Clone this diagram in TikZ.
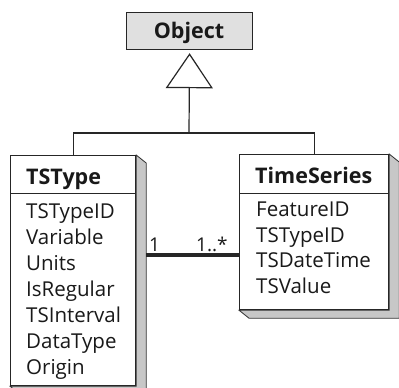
\documentclass[tikz,border=0pt]{standalone}
\usepackage{fontspec}
\setmainfont{Open Sans}
\usetikzlibrary{arrows.meta}
\tikzset{
  classbox/.style={draw=black!85, line width=1.2pt, fill=white, inner sep=0pt, anchor=north west},
  objbox/.style={draw=black!85, line width=1.2pt, fill=black!12, inner sep=0pt, anchor=north west},
  side3d/.style={fill=black!22, draw=black!80, line width=0.8pt, line join=miter},
  hdr/.style={font=\bfseries\fontsize{21.5}{21.5}\selectfont, inner sep=0pt, anchor=base west, text=black!90},
  attr/.style={font=\fontsize{20.5}{20.5}\selectfont, inner sep=0pt, anchor=base west, text=black!90},
  mult/.style={font=\fontsize{19}{19}\selectfont, inner sep=0pt, anchor=base west, text=black!90},
  sep/.style={line width=1pt, draw=black!85},
  gen/.style={line width=1.2pt, draw=black!85},
  assoc/.style={line width=4pt, draw=black!85},
}
\begin{document}
\begin{tikzpicture}[x=1pt,y=-1pt]
\useasboundingbox (0,0) rectangle (399,388);
\fill[white] (0,0) rectangle (399,388);

% Object
\node[objbox, minimum width=126pt, minimum height=37pt] (obj) at (126,12) {};
\node[hdr, anchor=base] (objt) at (189,38) {Object};

% TSType box
\node[classbox, minimum width=125pt, minimum height=230pt] (tstype) at (10,155) {};
\filldraw[side3d] (tstype.north east) -- ++(10,8) |- ([shift={(10,8)}]tstype.south west) -- (tstype.south west) -- (tstype.south east) -- cycle;
\node[classbox, minimum width=125pt, minimum height=230pt] (tstypeb) at (10,155) {};
\draw[sep] (tstypeb.west |- 0,193) coordinate (tl) -- (tstypeb.east |- tl);
\node[hdr] (tstypeh) at (26,184) {TSType};
\node[attr] (t1) at (26,218) {TSTypeID};
\node[attr] (t2) at (26,244) {Variable};
\node[attr] (t3) at (26,270) {Units};
\node[attr] (t4) at (26,296) {IsRegular};
\node[attr] (t5) at (26,322) {TSInterval};
\node[attr] (t6) at (26,348) {DataType};
\node[attr] (t7) at (26,374) {Origin};

% TimeSeries box
\node[classbox, minimum width=149pt, minimum height=155pt] (ts) at (239,154) {};
\filldraw[side3d] (ts.north east) -- ++(10,8) |- ([shift={(10,8)}]ts.south west) -- (ts.south west) -- (ts.south east) -- cycle;
\node[classbox, minimum width=149pt, minimum height=155pt] (tsb) at (239,154) {};
\draw[sep] (tsb.west |- 0,193) coordinate (tr) -- (tsb.east |- tr);
\node[hdr] (tsh) at (255,183) {TimeSeries};
\node[attr] (s1) at (256,216) {FeatureID};
\node[attr] (s2) at (256,242) {TSTypeID};
\node[attr] (s3) at (256,267) {TSDateTime};
\node[attr] (s4) at (256,293) {TSValue};

% generalization
\coordinate (j) at (189,133);
\draw[gen] (tstypeb.north) |- (j) -| (tsb.north);
\draw[gen, shorten >=3pt, -{Triangle[open, length=35pt, width=47pt, line width=1.2pt]}] (j) -- (obj.south);

% association
\draw[assoc] ([xshift=10pt]tstypeb.east |- 0,255) -- (tsb.west |- 0,255);
\node[mult] (m1) at (149,251) {1};
\node[mult] (m2) at (196,251) {1..*};
\end{tikzpicture}
\end{document}
